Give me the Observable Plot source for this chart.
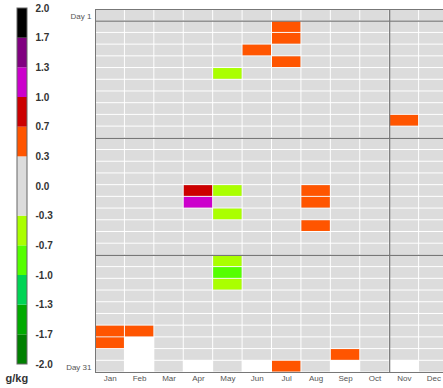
<!DOCTYPE html>
<html>
<head>
<meta charset="utf-8">
<script src="https://cdn.jsdelivr.net/npm/d3@7"></script>
<script src="https://cdn.jsdelivr.net/npm/@observablehq/plot@0.6"></script>
<style>
  html, body { margin: 0; padding: 0; background: #fff; overflow: hidden; width: 443px; height: 388px; }
  #wrap { position: relative; width: 443px; height: 388px; }
  #wrap svg { position: absolute; left: 0; top: 0; }
</style>
</head>
<body>
<div id="wrap"></div>
<script>
const months = ["Jan","Feb","Mar","Apr","May","Jun","Jul","Aug","Sep","Oct","Nov","Dec"];
const daysInMonth = [31,28,31,30,31,30,31,31,30,31,30,31];

// anomaly cells (month index 1-12, day, value g/kg)
const anomMonth = [7, 7, 6, 7, 11, 5, 4, 4, 5, 5, 5, 5, 5, 8, 8, 8, 1, 1, 2, 9, 7];
const anomDay   = [2, 3, 4, 5, 10, 6, 16, 17, 16, 18, 22, 23, 24, 16, 17, 19, 28, 29, 28, 30, 31];
const anomValue = [0.5, 0.5, 0.5, 0.5, 0.45, -0.5, 0.85, 1.15, -0.5, -0.45, -0.5, -0.85, -0.5, 0.5, 0.5, 0.45, 0.5, 0.5, 0.45, 0.5, 0.55];

// colour classes
const thresholds = [-1.7, -1.3, -1.0, -0.7, -0.3, 0.3, 0.7, 1.0, 1.3, 1.7];
const classColors = ["#008000", "#00aa00", "#00d455", "#55ff00", "#aaff00", "#dcdcdc", "#ff5500", "#cc0000", "#cc00cc", "#800080", "#000000"];
const legendLabels = ["-2.0","-1.7","-1.3","-1.0","-0.7","-0.3","0.0","0.3","0.7","1.0","1.3","1.7","2.0"];
const unitLabel = "g/kg";
const dayLabels = {1: "Day 1", 31: "Day 31"};
const markerDays = [1.5, 11.5, 21.5];
const markerMonths = [10.5];

const colorScale = {type: "threshold", domain: thresholds, range: classColors};

const background = [];
daysInMonth.forEach((n, i) => { for (let d = 1; d <= n; d++) background.push({m: i + 1, d}); });
const anomalies = anomMonth.map((m, i) => ({m, d: anomDay[i], v: anomValue[i]}));

const font = "'Liberation Sans', Arial, sans-serif";

const main = Plot.plot({
  width: 450, height: 388,
  marginLeft: 95, marginRight: 2, marginTop: 9, marginBottom: 16,
  style: {fontFamily: font, maxWidth: "none", background: "transparent", overflow: "visible"},
  x: {domain: [0.5, 12.5], axis: null},
  y: {domain: [0.5, 31.5], reverse: true, axis: null},
  color: colorScale,
  marks: [
    Plot.rect(background, {x1: d => d.m - 0.5, x2: d => d.m + 0.5, y1: d => d.d - 0.5, y2: d => d.d + 0.5, fill: "#dcdcdc", inset: 0.5}),
    Plot.rect(anomalies, {x1: d => d.m - 0.5, x2: d => d.m + 0.5, y1: d => d.d - 0.5, y2: d => d.d + 0.5, fill: "v", inset: 0.5}),
    Plot.ruleY(markerDays, {stroke: "#777", strokeWidth: 1.2}),
    Plot.ruleX(markerMonths, {stroke: "#777", strokeWidth: 1.2}),
    Plot.frame({stroke: "#777"}),
    Plot.axisX(d3.range(1, 13), {tickFormat: i => months[i - 1], tickSize: 0, tickPadding: 3, fontSize: 8, fill: "#555"}),
    Plot.axisY([1, 31], {tickFormat: d => dayLabels[d], tickSize: 0, tickPadding: 4, fontSize: 8, fill: "#555", dy: 1})
  ]
});

const legendBins = d3.range(12).map(i => ({i, v: (+legendLabels[i] + +legendLabels[i + 1]) / 2}));
const legendTicks = legendLabels.map((t, i) => ({i, t}));

const legend = Plot.plot({
  width: 95, height: 388,
  marginLeft: 17, marginRight: 68, marginTop: 8, marginBottom: 24,
  style: {fontFamily: font, background: "transparent", overflow: "visible", maxWidth: "none"},
  x: {domain: [0, 1], axis: null},
  y: {domain: [0, 12], axis: null},
  color: colorScale,
  marks: [
    Plot.rect(legendBins, {x1: 0, x2: 1, y1: "i", y2: d => d.i + 1, fill: "v"}),
    Plot.rect([0], {x1: 0, x2: 1, y1: 0, y2: 12, fill: "none", stroke: "#666"}),
    Plot.text(legendTicks, {x: 1, y: "i", text: "t", dx: 8, textAnchor: "start", fontSize: 10, fontWeight: "bold", fill: "#333"}),
    Plot.text([unitLabel], {x: 0, y: 0, dx: -12, dy: 14, textAnchor: "start", fontSize: 11, fontWeight: "bold", fill: "#333"})
  ]
});

document.getElementById("wrap").append(main, legend);
</script>
</body>
</html>
